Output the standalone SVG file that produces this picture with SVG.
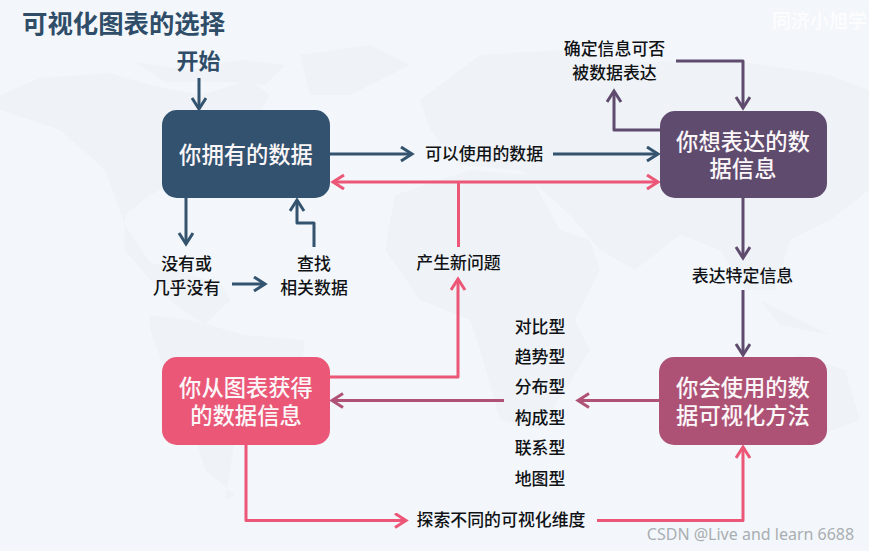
<svg xmlns="http://www.w3.org/2000/svg" width="869" height="551" viewBox="0 0 869 551">
<style>
.n{font:500 22.3px "Noto Sans CJK SC","Noto Sans",sans-serif;fill:#fbf6f8;text-anchor:middle}
.l{font:500 16.9px "Noto Sans CJK SC","Noto Sans",sans-serif;fill:#101215;text-anchor:middle}
.c{fill:none;stroke-width:3;stroke-linejoin:round}
.b{stroke:#33536f;marker-end:url(#ab)}
.p{stroke:#5f4b6e;marker-end:url(#ap)}
.r{stroke:#ec5677;marker-end:url(#ar)}.rn{stroke:#ec5677}
.m{stroke:#b05275;marker-end:url(#am)}
.map{fill:#eff3f7}
</style>
<defs>
<marker id="ab" markerUnits="userSpaceOnUse" markerWidth="16" markerHeight="18" refX="13" refY="8" orient="auto"><path d="M2 1L13 8L2 15" fill="none" stroke="#33536f" stroke-width="3"/></marker>
<marker id="ap" markerUnits="userSpaceOnUse" markerWidth="16" markerHeight="18" refX="13" refY="8" orient="auto"><path d="M2 1L13 8L2 15" fill="none" stroke="#5f4b6e" stroke-width="3"/></marker>
<marker id="ar" markerUnits="userSpaceOnUse" markerWidth="16" markerHeight="18" refX="13" refY="8" orient="auto"><path d="M2 1L13 8L2 15" fill="none" stroke="#ec5677" stroke-width="3"/></marker>
<marker id="am" markerUnits="userSpaceOnUse" markerWidth="16" markerHeight="18" refX="13" refY="8" orient="auto"><path d="M2 1L13 8L2 15" fill="none" stroke="#b05275" stroke-width="3"/></marker>
</defs>
<rect width="869" height="551" fill="#f3f7fb"/>
<g id="map">
<path class="map" d="M0 95L40 78L110 73L150 85L200 95L250 80L270 95L255 120L225 150L190 175L150 195L125 215L125 250L150 280L175 305L205 325L230 300L222 285L150 262L125 225L105 170L60 130L0 110Z"/>
<path class="map" d="M150 315L190 320L245 335L305 340L300 375L265 415L235 440L225 500L235 495L205 470L190 420L165 370L150 330Z"/>
<path class="map" d="M135 62L190 70L240 60L285 65L265 85L230 82L165 82Z"/>
<path class="map" d="M300 55L370 45L410 65L350 95L310 95Z"/>
<path class="map" d="M395 195L470 170L530 175L560 230L590 240L600 270L575 320L590 350L540 430L500 420L480 350L470 320L420 300L385 250Z"/>
<path class="map" d="M420 100L480 55L560 50L640 62L730 60L830 75L869 90L869 190L830 220L790 240L775 290L745 290L720 250L680 235L635 270L600 250L570 215L520 170L460 165L430 130Z"/>
<path class="map" d="M760 370L800 355L845 370L860 420L820 435L770 425Z"/>
<path class="map" d="M760 300L800 320L830 335L780 325Z"/>
</g>
<text x="22" y="33" font-family="Noto Sans CJK SC,sans-serif" font-size="25.4" font-weight="700" fill="#2f4d68">可视化图表的选择</text>
<text x="772" y="28" font-family="Noto Sans CJK SC,sans-serif" font-size="19" font-weight="500" fill="#fff" fill-opacity=".85">同济小旭学</text>
<text x="750.500" y="540" font-family="Noto Sans,sans-serif" font-size="16" fill="#a9aeb2" text-anchor="middle">CSDN @Live and learn 6688</text>
<g id="connectors">
<path class="c b" d="M199 78V109"/>
<path class="c b" d="M330 154H412"/>
<path class="c b" d="M553 154H658"/>
<path class="c r" d="M459 182H333"/>
<path class="c r" d="M459 182H658"/>
<path class="c rn" d="M458.500 182V247"/>
<path class="c b" d="M186 198V244"/>
<path class="c b" d="M314 247V223H297V200"/>
<path class="c b" d="M232 284H265"/>
<path class="c p" d="M660 130H614V91"/>
<path class="c p" d="M676 61H743V108"/>
<path class="c p" d="M743 198V258"/>
<path class="c p" d="M743 290V355"/>
<path class="c r" d="M330 377H458V279"/>
<path class="c m" d="M659 400.500H578"/>
<path class="c m" d="M504 400.500H332"/>
<path class="c r" d="M246 445V520.500H406"/>
<path class="c r" d="M597 520.500H743V447"/>
</g>
<g id="start"><text x="198.500" y="69" font-family="Noto Sans CJK SC,sans-serif" font-size="22" font-weight="700" fill="#2f4d68" text-anchor="middle">开始</text></g>
<g id="node-data"><rect x="162" y="110" width="168" height="88" rx="15" fill="#33526f"/><text class="n" x="246" y="163">你拥有的数据</text></g>
<g id="node-info"><rect x="660" y="111" width="167" height="87" rx="15" fill="#5f4b6e"/><text class="n" x="743" y="150">你想表达的数</text><text class="n" x="743" y="177">据信息</text></g>
<g id="node-gain"><rect x="162" y="357" width="168" height="88" rx="15" fill="#ea5777"/><text class="n" x="246" y="396">你从图表获得</text><text class="n" x="246" y="424">的数据信息</text></g>
<g id="node-method"><rect x="659" y="357" width="168" height="88" rx="15" fill="#ae5275"/><text class="n" x="743" y="396">你会使用的数</text><text class="n" x="743" y="424">据可视化方法</text></g>
<g id="labels">
<text class="l" x="484" y="160">可以使用的数据</text>
<text class="l" x="614.500" y="55">确定信息可否</text>
<text class="l" x="614.500" y="79">被数据表达</text>
<text class="l" x="186.500" y="270">没有或</text>
<text class="l" x="186.500" y="294">几乎没有</text>
<text class="l" x="314" y="270">查找</text>
<text class="l" x="314" y="294">相关数据</text>
<text class="l" x="458.500" y="269">产生新问题</text>
<text class="l" x="742.500" y="282">表达特定信息</text>
<text class="l" x="540" y="333">对比型</text>
<text class="l" x="540" y="363">趋势型</text>
<text class="l" x="540" y="393">分布型</text>
<text class="l" x="540" y="424">构成型</text>
<text class="l" x="540" y="454">联系型</text>
<text class="l" x="540" y="485">地图型</text>
<text class="l" x="501" y="526">探索不同的可视化维度</text>
</g>
</svg>
